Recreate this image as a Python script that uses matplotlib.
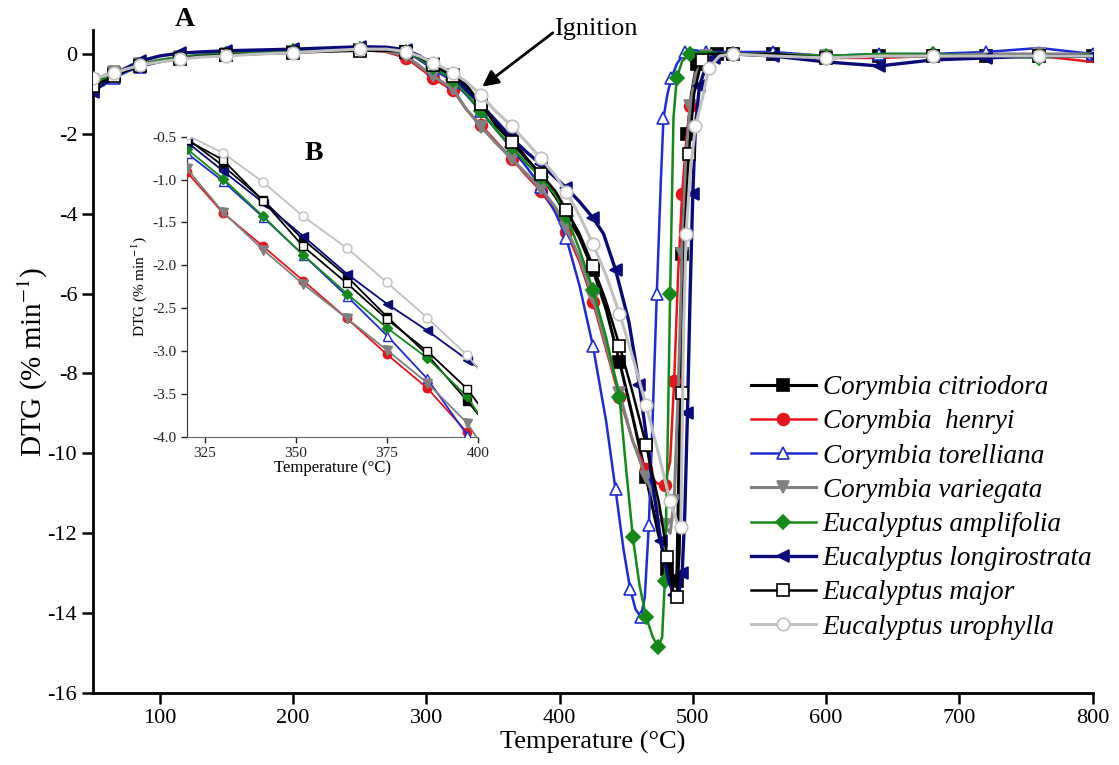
import matplotlib
matplotlib.use("Agg")
import matplotlib.pyplot as plt

plt.rcParams['font.family'] = 'serif'
plt.rcParams['font.serif'] = ['Liberation Serif', 'DejaVu Serif']
plt.rcParams['mathtext.fontset'] = 'stix'
plt.rcParams['axes.unicode_minus'] = False

# ---- DTG data (% min^-1) versus temperature (°C) ----
temp_base = [50, 58, 66, 75, 85, 100, 115, 130, 150, 175, 200, 225, 250, 270,
             285, 295, 305, 312, 320, 330, 341, 352, 364, 375, 386, 397]
temp_tail = [530, 560, 600, 640, 680, 720, 760, 800]

species = ["Corymbia citriodora", "Corymbia  henryi", "Corymbia torelliana",
           "Corymbia variegata", "Eucalyptus amplifolia",
           "Eucalyptus longirostrata", "Eucalyptus major", "Eucalyptus urophylla"]

base_citriodora = [-0.75, -0.62, -0.5, -0.38, -0.28, -0.18, -0.1, -0.05, -0.02, 0.02, 0.05, 0.08, 0.1, 0.1,
                   0.06, -0.08, -0.27, -0.38, -0.52, -0.84, -1.24, -1.70, -2.13, -2.60, -3.04, -3.58]
base_henryi = [-0.7, -0.6, -0.48, -0.36, -0.26, -0.16, -0.08, -0.04, 0.0, 0.03, 0.06, 0.09, 0.11, 0.05,
               -0.1, -0.35, -0.6, -0.75, -0.91, -1.39, -1.78, -2.18, -2.62, -3.04, -3.43, -3.95]
base_torelliana = [-0.85, -0.78, -0.6, -0.45, -0.32, -0.2, -0.1, -0.02, 0.02, 0.06, 0.08, 0.12, 0.15, 0.14,
                   0.05, -0.15, -0.38, -0.52, -0.69, -1.02, -1.44, -1.88, -2.36, -2.82, -3.32, -3.98]
base_variegata = [-0.65, -0.55, -0.45, -0.35, -0.25, -0.15, -0.08, -0.04, 0.0, 0.03, 0.05, 0.08, 0.1, 0.07,
                  -0.05, -0.3, -0.55, -0.7, -0.87, -1.38, -1.82, -2.22, -2.62, -2.99, -3.37, -3.84]
base_amplifolia = [-0.75, -0.62, -0.5, -0.38, -0.27, -0.16, -0.08, -0.03, 0.0, 0.04, 0.07, 0.1, 0.12, 0.11,
                   0.06, -0.12, -0.33, -0.48, -0.64, -0.99, -1.43, -1.88, -2.33, -2.73, -3.08, -3.53]
base_longirostrata = [-0.95, -0.75, -0.55, -0.35, -0.18, -0.05, 0.02, 0.05, 0.08, 0.1, 0.12, 0.15, 0.18, 0.17,
                      0.1, -0.05, -0.25, -0.4, -0.56, -0.90, -1.27, -1.66, -2.10, -2.45, -2.76, -3.10]
base_major = [-0.8, -0.68, -0.55, -0.42, -0.3, -0.2, -0.12, -0.06, -0.03, 0.0, 0.03, 0.06, 0.08, 0.08,
              0.06, -0.08, -0.28, -0.4, -0.54, -0.77, -1.25, -1.78, -2.21, -2.63, -3.00, -3.44]
base_urophylla = [-0.6, -0.55, -0.48, -0.38, -0.28, -0.2, -0.13, -0.08, -0.05, 0.0, 0.03, 0.08, 0.12, 0.12,
                  0.06, -0.06, -0.22, -0.33, -0.48, -0.69, -1.03, -1.43, -1.80, -2.20, -2.61, -3.05]

peak_t_citriodora = [405, 415, 425, 435, 445, 455, 465, 474, 481, 485, 488, 490, 492, 494, 496, 499, 503, 510, 518]
peak_citriodora = [-4.0, -4.6, -5.4, -6.4, -7.7, -9.1, -10.6, -12.0, -12.9, -13.3, -13.2, -9.5, -5.0, -3.0,
                   -2.0, -1.0, -0.25, -0.05, 0.0]
peak_t_henryi = [405, 415, 425, 435, 445, 455, 465, 473, 479, 483, 486, 489, 492, 495, 498, 502, 508, 515]
peak_henryi = [-4.45, -5.2, -6.2, -7.4, -8.6, -9.7, -10.4, -10.75, -10.8, -10.2, -8.2, -5.5, -3.5, -2.2,
               -1.3, -0.6, -0.15, 0.0]
peak_t_torelliana = [405, 415, 425, 435, 442, 448, 453, 457, 461, 464, 467, 470, 473, 476, 478, 481, 484,
                     488, 494, 500, 510]
peak_torelliana = [-4.6, -5.8, -7.3, -9.2, -10.9, -12.4, -13.4, -13.9, -14.1, -13.6, -11.8, -9.0, -6.0,
                   -3.2, -1.6, -1.0, -0.6, -0.25, 0.05, 0.1, 0.05]
peak_t_variegata = [405, 415, 425, 435, 445, 455, 465, 473, 479, 483, 486, 489, 492, 495, 498, 502, 510, 518]
peak_variegata = [-4.35, -5.1, -6.1, -7.3, -8.5, -9.7, -10.6, -11.3, -11.8, -12.0, -11.2, -8.5, -5.0, -2.6,
                  -1.3, -0.5, -0.05, 0.0]
peak_t_amplifolia = [405, 415, 425, 435, 445, 450, 455, 460, 465, 470, 474, 477, 479, 481, 483, 485.5, 488,
                     492, 498, 508]
peak_amplifolia = [-4.05, -4.9, -5.9, -7.1, -8.6, -10.4, -12.1, -13.3, -14.1, -14.6, -14.85, -14.6, -13.2,
                   -10.0, -6.0, -1.6, -0.6, -0.18, 0.0, 0.05]
peak_t_longirostrata = [405, 415, 425, 433, 442, 452, 460, 468, 476, 482, 486, 489, 492, 494, 496, 498, 500,
                        502, 505, 510, 516]
peak_longirostrata = [-3.35, -3.7, -4.1, -4.5, -5.4, -6.7, -8.3, -10.3, -12.2, -13.2, -13.55, -13.6, -13.0,
                      -11.5, -9.0, -6.0, -3.5, -1.8, -0.8, -0.3, -0.1]
peak_t_major = [405, 415, 425, 435, 445, 455, 465, 475, 481, 485, 488, 490, 492, 494, 497, 501, 506.7, 512]
peak_major = [-3.9, -4.5, -5.3, -6.2, -7.3, -8.5, -9.8, -11.3, -12.6, -13.4, -13.6, -12.5, -8.5, -4.5,
              -2.5, -1.0, -0.15, 0.0]
peak_t_urophylla = [405, 415, 425, 435, 445, 455, 465, 475, 483, 489, 491, 493, 495, 498, 502, 507.5, 512, 520]
peak_urophylla = [-3.45, -4.05, -4.75, -5.55, -6.5, -7.6, -8.8, -10.1, -11.2, -11.8, -11.85, -7.0, -4.5,
                  -3.0, -1.8, -1.07, -0.35, -0.05]

tail_citriodora = [0.0, 0.0, -0.1, -0.05, -0.05, -0.05, -0.05, -0.05]
tail_henryi = [0.0, -0.05, -0.1, -0.1, -0.05, -0.05, -0.05, -0.2]
tail_torelliana = [0.05, 0.05, -0.05, 0.0, 0.0, 0.05, 0.15, 0.0]
tail_variegata = [0.0, 0.0, -0.05, -0.05, -0.05, 0.0, 0.0, 0.0]
tail_amplifolia = [0.0, 0.0, -0.05, 0.0, 0.0, -0.05, -0.1, 0.0]
tail_longirostrata = [0.0, -0.05, -0.2, -0.3, -0.15, -0.1, -0.05, -0.05]
tail_major = [0.0, 0.0, -0.1, -0.05, -0.05, -0.05, -0.05, -0.05]
tail_urophylla = [0.0, -0.05, -0.1, -0.05, -0.05, -0.05, -0.05, -0.05]

series = [
    (base_citriodora, peak_t_citriodora, peak_citriodora, tail_citriodora),
    (base_henryi, peak_t_henryi, peak_henryi, tail_henryi),
    (base_torelliana, peak_t_torelliana, peak_torelliana, tail_torelliana),
    (base_variegata, peak_t_variegata, peak_variegata, tail_variegata),
    (base_amplifolia, peak_t_amplifolia, peak_amplifolia, tail_amplifolia),
    (base_longirostrata, peak_t_longirostrata, peak_longirostrata, tail_longirostrata),
    (base_major, peak_t_major, peak_major, tail_major),
    (base_urophylla, peak_t_urophylla, peak_urophylla, tail_urophylla),
]

# line colour, marker, marker face, marker size, line width
styles = [
    ("#000000", "s", "#000000", 8, 2.2),
    ("#e8141b", "o", "#e8141b", 8.5, 1.8),
    ("#1f2bd6", "^", "white", 9, 1.8),
    ("#808080", "v", "#808080", 9, 2.2),
    ("#138a17", "D", "#138a17", 7.5, 1.8),
    ("#0a0a7a", "<", "#0a0a7a", 9, 2.4),
    ("#000000", "s", "white", 8, 1.8),
    ("#c0c0c0", "o", "white", 9, 2.2),
]

fig = plt.figure(figsize=(11.19, 7.65), dpi=100)
ax = fig.add_axes([0.0832, 0.0941, 0.8932, 0.8667])
axin = fig.add_axes([0.1668, 0.4291, 0.2604, 0.3922])

for i, (name, (base, pt, pv, tail), st) in enumerate(zip(species, series, styles)):
    color, mk, mfc, ms, lw = st
    t = temp_base + pt + temp_tail
    v = base + pv + tail
    ax.plot(t, v, color=color, lw=lw, marker=mk, ms=ms, mfc=mfc, mec=color,
            mew=1.2, markevery=2, label=name, zorder=2 + i)
    axin.plot(t, v, color=color, lw=1.3, marker=mk, ms=ms * 0.72, mfc=mfc,
              mec=color, mew=1.0, markevery=1, zorder=2 + i)

# main axes
ax.set_xlim(50, 800)
ax.set_ylim(-16, 0.6)
ax.set_xticks(range(100, 801, 100))
ax.set_yticks(range(-16, 1, 2))
for s in ("top", "right"):
    ax.spines[s].set_visible(False)
for s in ("left", "bottom"):
    ax.spines[s].set_linewidth(2)
ax.tick_params(direction="out", length=8, width=1.8, labelsize=16)
ax.set_xlabel("Temperature (°C)", fontsize=19, labelpad=2)
ax.set_ylabel("DTG (% min$^{-1}$)", fontsize=21, labelpad=-2)

leg = ax.legend(loc="upper left", bbox_to_anchor=(0.671, 0.5095),
                bbox_transform=fig.transFigure, frameon=False,
                prop={"style": "italic", "size": 19.5}, handlelength=2.4,
                handletextpad=0.25, labelspacing=0.34, borderpad=0, borderaxespad=0)

ax.annotate("", xy=(342, -0.82), xytext=(395, 0.53),
            arrowprops=dict(arrowstyle="-|>", color="black", lw=2, mutation_scale=24,
                            shrinkA=0, shrinkB=0),
            annotation_clip=False)
ax.text(396, 0.62, "Ignition", fontsize=19, ha="left", va="center")

fig.text(0.165, 0.974, "A", fontsize=20, fontweight="bold", ha="center", va="center")

# inset
axin.set_xlim(320, 400)
axin.set_ylim(-4.0, -0.5)
axin.set_xticks([325, 350, 375, 400])
axin.set_yticks([-4.0, -3.5, -3.0, -2.5, -2.0, -1.5, -1.0, -0.5])
axin.set_yticklabels([f"{v:.1f}" for v in [-4.0, -3.5, -3.0, -2.5, -2.0, -1.5, -1.0, -0.5]])
axin.patch.set_alpha(0)
for s in ("top", "right"):
    axin.spines[s].set_visible(False)
axin.spines["left"].set_color("#333333")
axin.spines["bottom"].set_color("#666666")
axin.tick_params(direction="out", length=4, width=1, labelsize=11, colors="#222222")
axin.set_xlabel("Temperature (°C)", fontsize=12, labelpad=0)
axin.set_ylabel("DTG (% min$^{-1}$)", fontsize=11, labelpad=2)
fig.text(0.280, 0.800, "B", fontsize=20, fontweight="bold", ha="center", va="center")

fig.savefig("out.png", dpi=100)
